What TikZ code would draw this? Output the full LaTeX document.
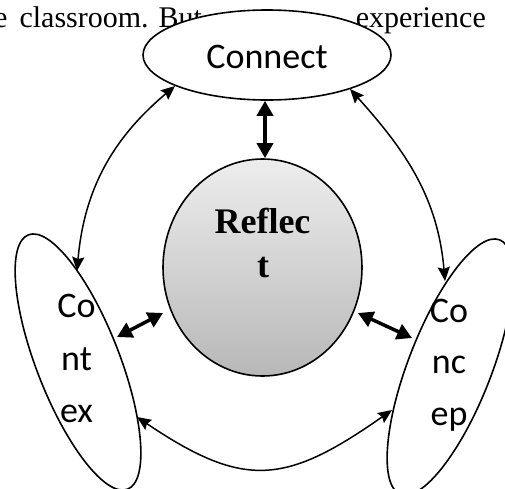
\documentclass[tikz,border=0pt]{standalone}
\usepackage{fontspec}
\setmainfont{Liberation Serif}
\newfontfamily\calfont{Carlito}
\usetikzlibrary{arrows.meta,shapes.geometric}
\definecolor{gtop}{gray}{0.93}
\definecolor{gbot}{gray}{0.72}
\begin{document}
\begin{tikzpicture}[x=1pt,y=1pt,
  oval/.style={draw, line width=1.6pt, ellipse, inner sep=0pt},
  lbl/.style={font=\calfont\fontsize{36}{40}\selectfont, inner sep=0pt, anchor=base},
  rtxt/.style={font=\bfseries\fontsize{36}{44}\selectfont, inner sep=0pt, anchor=base},
  bgtxt/.style={font=\fontsize{30}{36}\selectfont, inner sep=0pt},
  heavy/.style={line width=3.5pt, {Triangle[length=15pt,width=16pt]}-{Triangle[length=15pt,width=16pt]}},
  link/.style={line width=1.5pt, {Stealth[length=14pt,width=12pt,inset=2pt]}-{Stealth[length=14pt,width=12pt,inset=2pt]}}]
\useasboundingbox (0,0) rectangle (505,-488);
% background text line (partly hidden behind the Connect oval)
\node[bgtxt, anchor=base west] (bg1) at (-6,-27) {e\hspace{12pt}classroom. But};
\node[bgtxt, anchor=base east] (bg2) at (486,-27) {experience};
% Connect
\node[oval, fill=white, minimum width=248, minimum height=90] (con) at (267,-55) {};
\node[lbl] (contxt) at (267,-68) {Connect};
% Reflect
\node[oval, minimum width=199, minimum height=217, top color=gtop, bottom color=gbot] (ref) at (262.5,-267.5) {};
\node[rtxt] (r1) at (262.5,-233) {Reflec};
\node[rtxt] (r2) at (263,-277) {t};
% Context
\node[oval, minimum width=273, minimum height=83, rotate=-68.7] (ctx) at (78,-362) {};
\node[lbl] (c1) at (76.5,-317) {Co};
\node[lbl] (c2) at (76.5,-370) {nt};
\node[lbl] (c3) at (76.5,-422) {ex};
% Concept
\node[oval, minimum width=273, minimum height=83, rotate=68.7] (cep) at (450,-367) {};
\node[lbl] (k1) at (449,-322) {Co};
\node[lbl] (k2) at (449,-373) {nc};
\node[lbl] (k3) at (449,-425) {ep};
% connector end points on borders
\coordinate (conL) at (175,-86);
\coordinate (conR) at (350,-89);
\coordinate (ctxT) at (77,-271);
\coordinate (cepT) at (445,-281);
\coordinate (ctxB) at (137,-417);
\coordinate (cepB) at (392,-410);
\coordinate (hl1) at (117,-337);
\coordinate (hl2) at (163,-313);
\coordinate (hr1) at (358,-313);
\coordinate (hr2) at (412,-338);
% heavy arrows
\draw[heavy] ([xshift=-2pt]con.south) -- ([xshift=2.5pt]ref.north);
\draw[heavy] (hl1) -- (hl2);
\draw[heavy] (hr1) -- (hr2);
% outer arcs
\draw[link] (conL) to[out=220,in=85] (ctxT);
\draw[link] (conR) to[out=-48,in=95] (cepT);
\draw[link] (ctxB) to[out=-34,in=215,looseness=1.3] (cepB);
\end{tikzpicture}
\end{document}
